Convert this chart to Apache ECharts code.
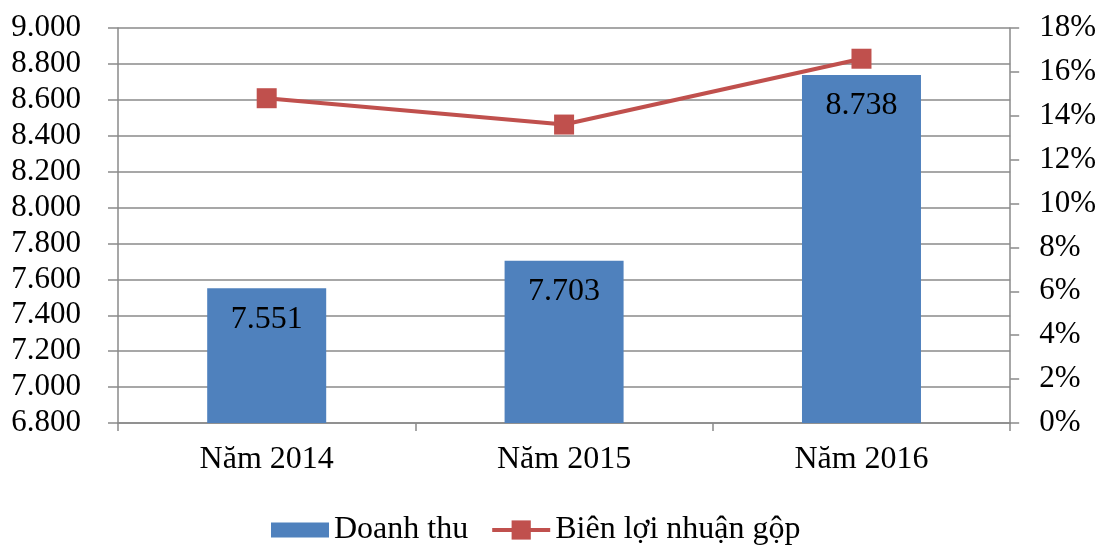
<!DOCTYPE html>
<html>
<head>
<meta charset="utf-8">
<script src="https://cdn.jsdelivr.net/npm/echarts@6/dist/echarts.min.js"></script>
<style>
html,body{margin:0;padding:0;background:#fff;}
#c{width:1099px;height:546px;}
</style>
</head>
<body>
<div id="c"></div>
<script>
const categories = ['Năm 2014', 'Năm 2015', 'Năm 2016'];
const revenue = [7551, 7703, 8738];
const grossMargin = [14.8, 13.6, 16.6];
const leftTicks = { min: 6800, max: 9000, interval: 200 };
const rightTicks = { min: 0, max: 18, interval: 2 };

function fmtThousands(v) {
  v = Math.round(v);
  const th = Math.floor(v / 1000);
  const rest = String(v % 1000).padStart(3, '0');
  return th + '.' + rest;
}

const FONT = 'Liberation Serif';
const gray = '#8a8a8a';
const chart = echarts.init(document.getElementById('c'));
chart.setOption({
  animation: false,
  textStyle: { fontFamily: FONT },
  grid: { left: 118, right: 85, top: 28, bottom: 123 },
  legend: {
    left: 266, top: 509,
    itemWidth: 58, itemHeight: 24, itemGap: 22,
    textStyle: { fontFamily: FONT, fontSize: 32, color: '#000' },
    data: [
      { name: 'Doanh thu', icon: 'path://M0,0H54V14H0Z' },
      { name: 'Biên lợi nhuận gộp', lineStyle: { width: 4, color: '#C0504D' } }
    ]
  },
  xAxis: {
    type: 'category',
    data: categories,
    axisLine: { lineStyle: { color: gray, width: 1.5 } },
    axisTick: { show: true, length: 8, lineStyle: { color: gray, width: 1.5 } },
    axisLabel: { fontFamily: FONT, fontSize: 32, color: '#000', margin: 21 }
  },
  yAxis: [
    {
      type: 'value', min: leftTicks.min, max: leftTicks.max, interval: leftTicks.interval,
      axisLine: { show: true, lineStyle: { color: gray, width: 1.5 } },
      axisTick: { show: true, length: 10, lineStyle: { color: gray, width: 1.5 } },
      splitLine: { show: true, lineStyle: { color: gray, width: 1.5 } },
      axisLabel: { fontFamily: FONT, fontSize: 31, color: '#000', margin: 37, formatter: fmtThousands }
    },
    {
      type: 'value', min: rightTicks.min, max: rightTicks.max, interval: rightTicks.interval,
      position: 'right',
      axisLine: { show: true, lineStyle: { color: gray, width: 1.5 } },
      axisTick: { show: true, length: 9, lineStyle: { color: gray, width: 1.5 } },
      splitLine: { show: false },
      axisLabel: { fontFamily: FONT, fontSize: 31, color: '#000', margin: 29, formatter: '{value}%' }
    }
  ],
  series: [
    {
      name: 'Doanh thu', type: 'bar', yAxisIndex: 0,
      data: revenue, barWidth: 119,
      itemStyle: { color: '#4F81BD' },
      label: {
        show: true, position: 'insideTop', distance: 15,
        fontFamily: FONT, fontSize: 32, color: '#000',
        formatter: p => fmtThousands(p.value)
      }
    },
    {
      name: 'Biên lợi nhuận gộp', type: 'line', yAxisIndex: 1,
      data: grossMargin, z: 5,
      symbol: 'rect', symbolSize: 20,
      lineStyle: { color: '#C0504D', width: 4 },
      itemStyle: { color: '#C0504D' }
    }
  ]
});
</script>
</body>
</html>
